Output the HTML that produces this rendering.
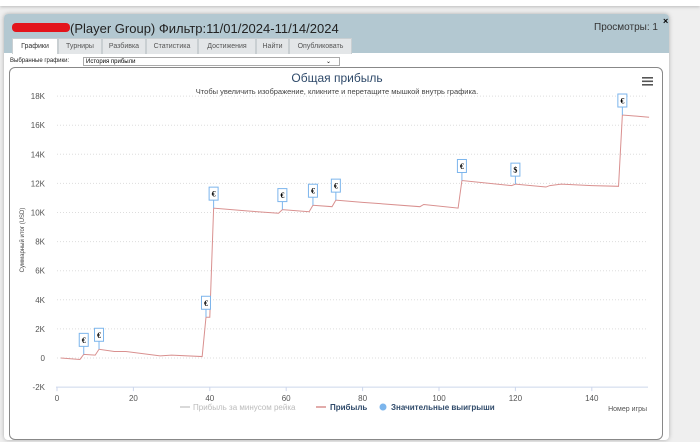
<!DOCTYPE html>
<html><head><meta charset="utf-8">
<style>
body{margin:0;width:700px;height:442px;overflow:hidden;background:#efefef;font-family:"Liberation Sans",sans-serif;position:relative}
.topbar{position:absolute;left:0;top:0;width:700px;height:6px;background:#fff;box-shadow:0 1px 3px #bbb}
.dlg{position:absolute;left:4px;top:14px;width:665px;height:426px;background:#fff;border-radius:4px;box-shadow:0 0 4px #aaa}
.hdr{position:absolute;left:0;top:0;width:665px;height:39px;background:#b3c8d1;border-radius:4px 4px 0 0}
.title{position:absolute;left:66px;top:7px;font-size:13px;color:#222}
.red{position:absolute;left:8px;top:9px;width:58px;height:9px;background:#e3141b;border-radius:4px}
.views{position:absolute;left:590px;top:8px;font-size:10px;color:#333}
.close{position:absolute;left:659px;top:2px;font-size:9px;font-weight:bold}
.tab{position:absolute;top:24px;height:15px;background:#e3e6e8;border:1px solid #c9cfd2;border-bottom:none;font-size:7px;color:#555;line-height:15px;text-align:center}
.tab.act{background:#fff;color:#333}
.sel{position:absolute;left:6px;top:44px;font-size:6px;color:#222}
.dd{position:absolute;left:79px;top:43px;width:257px;height:9px;border:1px solid #aaa;font-size:6px;line-height:9px;padding-left:2px;box-sizing:border-box}
.box{position:absolute;left:5px;top:53px;width:652px;height:371px;border:1px solid #888;border-radius:6px}
</style></head><body>
<div class="topbar"></div>
<div class="dlg">
 <div class="hdr">
  <div class="red"></div>
  <div class="title">(Player Group) Фильтр:11/01/2024-11/14/2024</div>
  <div class="views">Просмотры: 1</div>
  <div class="close">×</div>
  <div class="tab act" style="left:8px;width:44px">Графики</div>
  <div class="tab" style="left:54px;width:42px">Турниры</div>
  <div class="tab" style="left:98px;width:42px">Разбивка</div>
  <div class="tab" style="left:142px;width:50px">Статистика</div>
  <div class="tab" style="left:194px;width:56px">Достижения</div>
  <div class="tab" style="left:252px;width:31px">Найти</div>
  <div class="tab" style="left:285px;width:61px">Опубликовать</div>
 </div>
 <div class="sel">Выбранные графики:</div>
 <div class="dd">История прибыли<span style="position:absolute;right:8px">⌄</span></div>
 <div class="box"></div>
</div>
<svg id="chart" width="700" height="442" style="position:absolute;left:0;top:0"></svg>
<script>
const yTicks=[-2000,0,2000,4000,6000,8000,10000,12000,14000,16000,18000];
const yTickLabels=["-2K","0","2K","4K","6K","8K","10K","12K","14K","16K","18K"];
const xTicks=[0,20,40,60,80,100,120,140];
const games=[1,6,7,10,11,15,18,27,30,38,39,40,41,50,58,59,66,67,72,73,80,95,96,105,106,119,120,128,129,132,140,147,148,155];
const profit=[0,-100,250,200,600,450,450,150,200,100,2800,2800,10300,10100,9950,10200,10050,10500,10400,10850,10700,10400,10550,10300,12200,11850,11950,11750,11850,11950,11850,11800,16700,16550];
const winGames=[7,11,39,41,59,67,73,106,120,148];
const winSymbols=["€","€","€","€","€","€","€","€","$","€"];
const X=v=>57+v*3.82;
const Y=v=>358-v*0.01455;
const svg=document.getElementById('chart');
const NS='http://www.w3.org/2000/svg';
function mk(t,a,txt){const e=document.createElementNS(NS,t);for(const k in a)e.setAttribute(k,a[k]);if(txt!==undefined)e.textContent=txt;svg.appendChild(e);return e;}
let e;
e=mk('text',{x:337,y:82,'text-anchor':'middle','font-size':12,fill:'#2f4a6a'},'Общая прибыль');


e=mk('text',{x:337,y:94,'text-anchor':'middle','font-size':7.5,fill:'#444'},'Чтобы увеличить изображение, кликните и перетащите мышкой внутрь графика.');


e=mk('g',{});


for(let i=0;i<3;i++)e.appendChild(Object.assign(document.createElementNS(NS,'rect'),{})).setAttribute('x',0);
e.remove();
for(let i=0;i<3;i++){e=mk('rect',{x:642,y:77+i*3.5,width:11,height:1.6,fill:'#555'});

}
yTicks.forEach((t,i)=>{
 if(t!==-2000){e=mk('line',{x1:57,x2:648,y1:Y(t),y2:Y(t),stroke:'#ddd','stroke-dasharray':'1,2'});
 
 }
 e=mk('text',{x:45,y:Y(t)+3,'text-anchor':'end','font-size':8,fill:'#555'},yTickLabels[i]);
 
 
});
e=mk('line',{x1:56,x2:648,y1:Y(-2000),y2:Y(-2000),stroke:'#ccd6eb','stroke-width':1});


xTicks.forEach(t=>{
 e=mk('line',{x1:X(t),x2:X(t),y1:Y(-2000),y2:Y(-2000)+4,stroke:'#ccd6eb'});
 
 
 e=mk('text',{x:X(t),y:401,'text-anchor':'middle','font-size':8,fill:'#555'},String(t));
 
 
});
e=mk('text',{x:0,y:0,'font-size':6,fill:'#444','text-anchor':'middle',transform:'translate(24,240) rotate(-90)'},'Суммарный итог (USD)');


e=mk('text',{x:647,y:411,'text-anchor':'end','font-size':7,fill:'#555'},'Номер игры');


e=mk('polyline',{points:games.map((g,i)=>X(g)+','+Y(profit[i])).join(' '),fill:'none',stroke:'#d9908f','stroke-width':1});


winGames.forEach((g,i)=>{
 const v=profit[games.indexOf(g)];const px=X(g),py=Y(v);
 e=mk('line',{x1:px,x2:px,y1:py,y2:py-8,stroke:'#7cb5ec'});
 
 
 e=mk('rect',{x:px-4.5,y:py-21,width:9,height:13,fill:'#fff',stroke:'#7cb5ec','stroke-width':1});
 
 
 e=mk('text',{x:px,y:py-11.5,'text-anchor':'middle','font-size':8,'font-weight':'bold',fill:'#000','font-family':'Liberation Serif,serif'},winSymbols[i]);
 
 
});
e=mk('line',{x1:180,x2:190,y1:407,y2:407,stroke:'#ccc','stroke-width':1.5});


e=mk('text',{x:193,y:410,'font-size':8,fill:'#bbb'},'Прибыль за минусом рейка');


e=mk('line',{x1:316,x2:326,y1:407,y2:407,stroke:'#d9908f','stroke-width':1.5});


e=mk('text',{x:330,y:410,'font-size':8,'font-weight':'bold',fill:'#2f4a6a'},'Прибыль');


e=mk('circle',{cx:383,cy:407,r:3.5,fill:'#7cb5ec'});


e=mk('text',{x:391,y:410,'font-size':8,'font-weight':'bold',fill:'#2f4a6a'},'Значительные выигрыши');


</script>
</body></html>
